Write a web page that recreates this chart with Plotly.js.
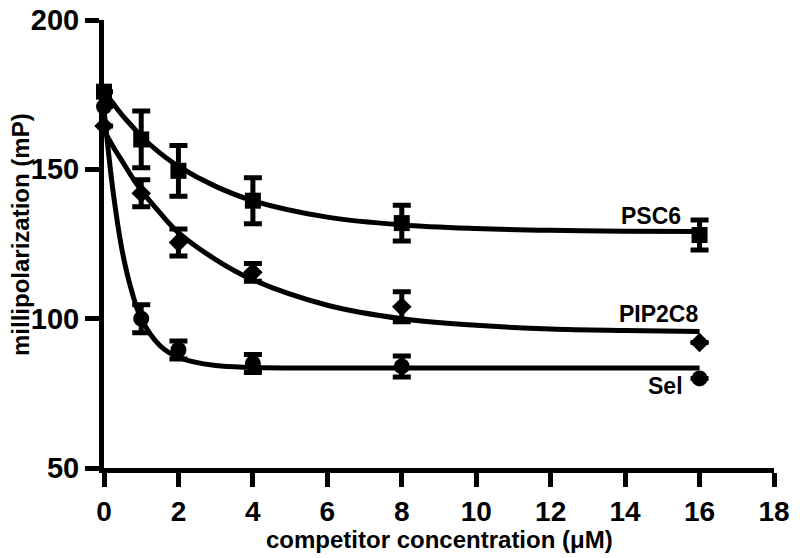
<!DOCTYPE html>
<html>
<head>
<meta charset="utf-8">
<script src="https://cdn.plot.ly/plotly-3.0.1.min.js"></script>
<style>
  html, body { margin: 0; padding: 0; background: #fff; }
  #chart { width: 800px; height: 558px; }
</style>
</head>
<body>
<div id="chart"></div>
<script>
// measured points (competitor concentration in uM)
var conc = [0, 1, 2, 4, 8, 16];

var psc6_mp = [176, 160, 149.5, 139.5, 132, 128];
var psc6_err = [null, 9.5, 8.5, 7.7, 6, 5];

var pip2c8_mp = [164.5, 142, 125.5, 115.5, 104, 92];
var pip2c8_err = [null, 4.5, 4.5, 3, 5, null];

var sel_mp = [171, 100, 89.5, 85, 84, 80];
var sel_err = [null, 4.7, 3, 3, 3.5, null];

// fitted curves
var fit_x = [0, 0.25, 0.5, 0.75, 1, 1.5, 2, 3, 4, 6, 8, 10, 12, 14, 16];
var psc6_fit = [176, 172, 168, 164.5, 161, 155.5, 151, 144.3, 139.5, 134, 131.4, 130.2, 129.6, 129.3, 129.2];
var pip2c8_fit = [163, 157.5, 152.5, 147.5, 143, 135.5, 128.8, 119.8, 113, 104.5, 100, 97.8, 96.5, 96, 95.7];
var sel_fit = [170, 142, 122, 109, 100, 91, 87, 84.3, 83.7, 83.5, 83.5, 83.5, 83.5, 83.5, 83.5];

var series_names = ["PSC6", "PIP2C8", "Sel"];

var font_family = "Liberation Sans, Arial, Helvetica, sans-serif";

function point_trace(name, y, err, symbol, size) {
    return {
        type: "scatter",
        mode: "markers",
        name: name,
        x: conc,
        y: y,
        marker: {symbol: symbol, size: size, color: "#000"},
        error_y: {type: "data", array: err, visible: true, color: "#000", thickness: 5, width: 9},
        cliponaxis: false
    };
}

function fit_trace(name, y) {
    return {
        type: "scatter",
        mode: "lines",
        name: name + " fit",
        x: fit_x,
        y: y,
        line: {color: "#000", width: 5, shape: "spline", smoothing: 1},
        cliponaxis: false
    };
}

var data = [
    fit_trace(series_names[0], psc6_fit),
    fit_trace(series_names[1], pip2c8_fit),
    fit_trace(series_names[2], sel_fit),
    point_trace(series_names[0], psc6_mp, psc6_err, "square", 16),
    point_trace(series_names[1], pip2c8_mp, pip2c8_err, "diamond", 15),
    point_trace(series_names[2], sel_mp, sel_err, "circle", 16)
];

var label_x = [14.69, 14.89, 15.08];
var label_y = [134.5, 101.6, 77.5];

var annotations = [];
for (let i = 0; i < series_names.length; i++) {
    annotations.push({
        x: label_x[i],
        y: label_y[i],
        xref: "x",
        yref: "y",
        text: series_names[i],
        showarrow: false,
        font: {family: font_family, size: 23, color: "#000", weight: "bold"}
    });
}

// axis titles as annotations so they can be placed like the original
annotations.push({
    x: 0.5,
    y: 0,
    xref: "paper",
    yref: "paper",
    yanchor: "top",
    yshift: -56,
    text: "competitor concentration (\u03bcM)",
    showarrow: false,
    font: {family: font_family, size: 24, color: "#000", weight: "bold"}
});
annotations.push({
    x: 0,
    y: 0.52,
    xref: "paper",
    yref: "paper",
    xanchor: "center",
    xshift: -84,
    textangle: -90,
    text: "millipolarization (mP)",
    showarrow: false,
    font: {family: font_family, size: 24, color: "#000", weight: "bold"}
});

var layout = {
    width: 800,
    height: 558,
    margin: {l: 104, r: 26, t: 20, b: 90},
    paper_bgcolor: "#fff",
    plot_bgcolor: "#fff",
    showlegend: false,
    font: {family: font_family, color: "#000"},
    xaxis: {
        range: [0, 18],
        tick0: 0,
        dtick: 2,
        showgrid: false,
        zeroline: false,
        showline: true,
        linecolor: "#000",
        linewidth: 5,
        ticks: "outside",
        ticklen: 14,
        tickwidth: 5,
        tickcolor: "#000",
        tickfont: {family: font_family, size: 28, weight: "bold"}
    },
    yaxis: {
        range: [50, 200],
        tick0: 50,
        dtick: 50,
        showgrid: false,
        zeroline: false,
        showline: true,
        linecolor: "#000",
        linewidth: 5,
        ticks: "outside",
        ticklen: 14,
        tickwidth: 5,
        tickcolor: "#000",
        tickfont: {family: font_family, size: 29, weight: "bold"}
    },
    annotations: annotations
};

var settings = {staticPlot: true};

Plotly.newPlot(document.getElementById("chart"), data, layout, settings);
</script>
</body>
</html>
